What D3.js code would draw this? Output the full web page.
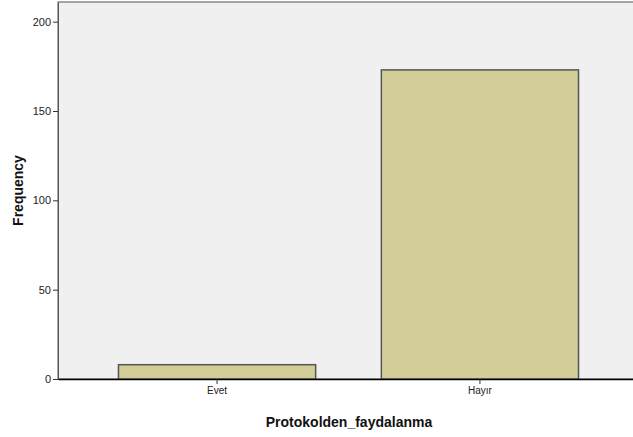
<!DOCTYPE html>
<html>
<head>
<meta charset="utf-8">
<script src="https://cdn.jsdelivr.net/npm/d3@7"></script>
<style>
  body { margin: 0; background: #fff; }
  svg { display: block; font-family: "Liberation Sans", Arial, sans-serif; }
</style>
</head>
<body>
<svg width="633" height="437"></svg>
<script>
var categories = ["Evet", "Hayır"];
var frequencies = [8, 173];
var yTicks = [0, 50, 100, 150, 200];

var svg = d3.select("svg");

var margin = { top: 2, right: -6, bottom: 58, left: 58 },
    width = +svg.attr("width") - margin.left - margin.right,
    height = +svg.attr("height") - margin.top - margin.bottom;

var g = svg.append("g")
    .attr("transform", `translate(${margin.left}, ${margin.top})`);

var x = d3.scaleBand()
    .domain(categories)
    .range([0, width])
    .paddingInner(0.25)
    .paddingOuter(0.23);

var y = d3.scaleLinear()
    .domain([0, 211])
    .range([height, 0]);

// plot background
g.append("rect")
    .attr("width", width)
    .attr("height", height)
    .attr("fill", "#f0f0f0")
    .attr("stroke", "#555")
    .attr("stroke-width", 1);

// bars
g.append("g")
    .selectAll("rect")
    .data(categories.map((c, i) => ({ cat: c, value: frequencies[i] })))
    .enter().append("rect")
        .attr("x", d => x(d.cat))
        .attr("y", d => y(d.value))
        .attr("width", x.bandwidth())
        .attr("height", d => height - y(d.value))
        .attr("fill", "#d3ce97")
        .attr("stroke", "#555")
        .attr("stroke-width", 1.5);

var yAxis = d3.axisLeft(y).tickValues(yTicks).tickSize(5).tickSizeOuter(0).tickPadding(2);
var xAxis = d3.axisBottom(x).tickSize(5).tickSizeOuter(0).tickPadding(3);

var gy = g.append("g").call(yAxis);
gy.select(".domain").attr("stroke", "#555");
gy.selectAll(".tick line").attr("stroke", "#333");
gy.selectAll("text").attr("font-size", 11).attr("fill", "#222");

var gx = g.append("g")
    .attr("transform", `translate(0, ${height})`)
    .call(xAxis);
gx.select(".domain").attr("stroke", "#000").attr("stroke-width", 1.5);
gx.selectAll(".tick line").attr("stroke", "#333");
gx.selectAll("text").attr("font-size", 10).attr("fill", "#222");

svg.append("text")
    .attr("x", 58 + 291)
    .attr("y", 427)
    .attr("text-anchor", "middle")
    .attr("font-size", 14)
    .attr("font-weight", "bold")
    .attr("fill", "#111")
    .text("Protokolden_faydalanma");

svg.append("text")
    .attr("transform", `translate(23, ${margin.top + height / 2}) rotate(-90)`)
    .attr("text-anchor", "middle")
    .attr("font-size", 14)
    .attr("font-weight", "bold")
    .attr("fill", "#111")
    .text("Frequency");
</script>
</body>
</html>
